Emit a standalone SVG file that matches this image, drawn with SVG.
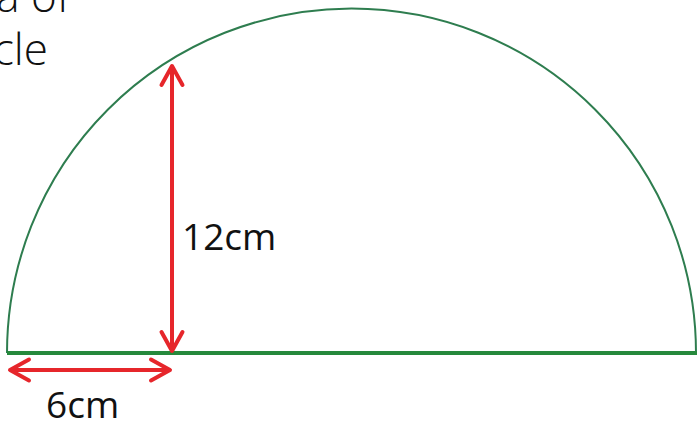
<svg xmlns="http://www.w3.org/2000/svg" width="697" height="428" viewBox="0 0 697 428">
  <style>
    .title { font-family: "Open Sans", "Lato", "Liberation Sans", sans-serif; font-weight: 300; font-size: 44px; fill: #111; }
    .label { font-family: "Open Sans", "Liberation Sans", sans-serif; font-weight: 400; font-size: 37px; fill: #111; }
    .arc { fill: none; stroke: #2e7d4f; stroke-width: 2; }
    .base { fill: none; stroke: #26893c; stroke-width: 4; }
    .dim { fill: none; stroke: #e6262b; stroke-width: 4; marker-start: url(#chev); marker-end: url(#chev); }
  </style>
  <defs>
    <marker id="chev" markerUnits="userSpaceOnUse" markerWidth="30" markerHeight="30" refX="22" refY="13" orient="auto-start-reverse" overflow="visible">
      <path d="M3,2.5 L22,13 L3,23.5" fill="none" stroke="#e6262b" stroke-width="4" stroke-linecap="round" stroke-linejoin="round"/>
    </marker>
  </defs>
  <rect width="697" height="428" fill="#ffffff"/>

  <g id="title">
    <text class="title" x="70" y="12" text-anchor="end">a of</text>
    <text class="title" x="48" y="65" text-anchor="end">cle</text>
  </g>

  <g id="semicircle">
    <path class="arc" d="M7,353 A344.5,344.5 0 0 1 696,353"/>
    <line class="base" x1="7" y1="353" x2="697" y2="353"/>
  </g>

  <g id="connectors">
    <line id="height-arrow" class="dim" x1="172" y1="351" x2="172" y2="66"/>
    <line id="radius-arrow" class="dim" x1="10" y1="370" x2="170" y2="370"/>
  </g>

  <g id="label-12cm">
    <text class="label" x="182" y="250">12cm</text>
  </g>
  <g id="label-6cm">
    <text class="label" x="46" y="418">6cm</text>
  </g>
</svg>
